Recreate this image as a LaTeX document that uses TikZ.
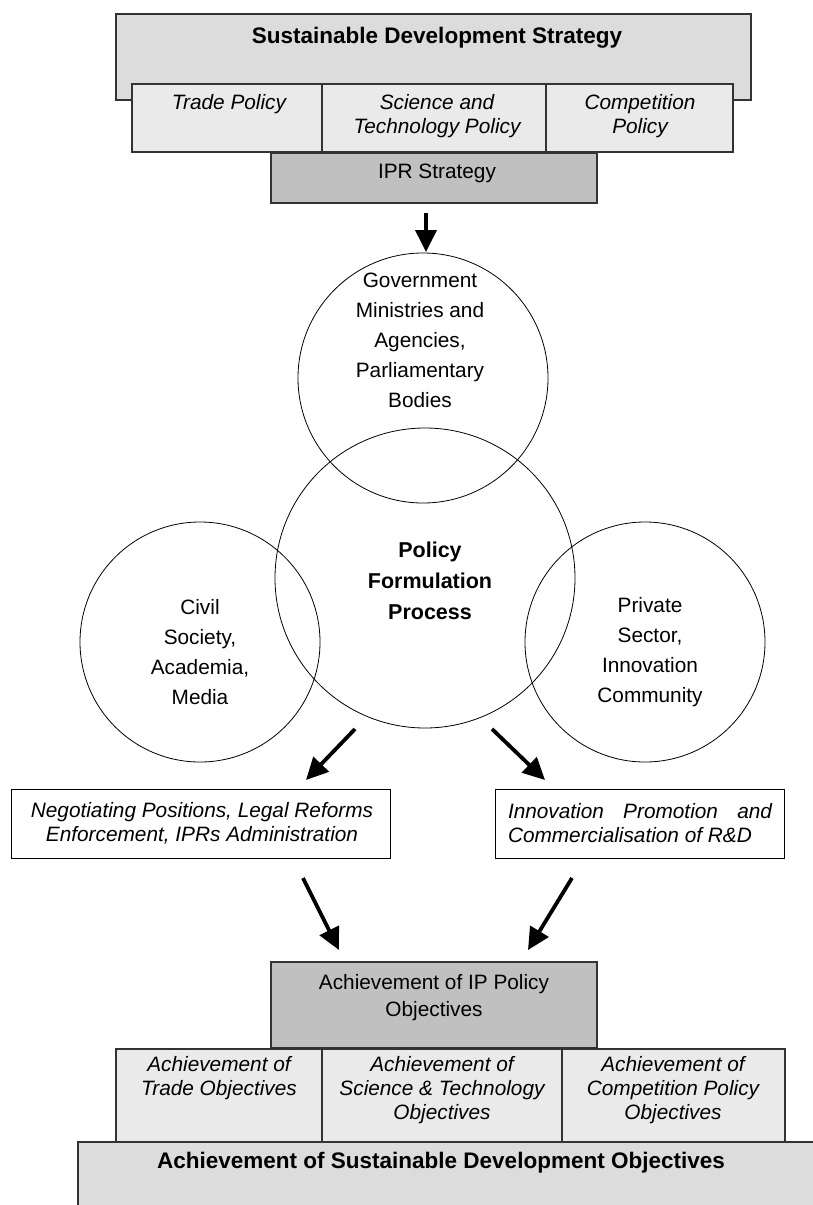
\documentclass[tikz,border=0pt]{standalone}
\usepackage{fontspec}
\setmainfont{Liberation Sans}
\usepackage{calc}
\usetikzlibrary{arrows.meta}
\definecolor{gA}{HTML}{DCDCDC}
\definecolor{gB}{HTML}{EAEAEA}
\definecolor{gC}{HTML}{C0C0C0}
\definecolor{edge}{HTML}{333333}
\begin{document}
\begin{tikzpicture}[x=1pt,y=-1pt,
  panel/.style={draw=edge, line width=1.6pt, inner sep=0pt, outer sep=0pt},
  panelA/.style={panel, fill=gA},
  panelB/.style={panel, fill=gB},
  panelC/.style={panel, fill=gC},
  plainbox/.style={draw=black, line width=0.8pt, fill=white, inner sep=0pt},
  ring/.style={draw=black, line width=0.8pt, circle, inner sep=0pt},
  txt/.style={inner sep=0pt, align=center, font=\fontsize{20.8}{24}\selectfont},
  itxt/.style={txt, font=\fontsize{20.8}{24}\selectfont\itshape},
  ctxt/.style={txt, font=\fontsize{20.8}{30}\selectfont},
  btxt/.style={txt, font=\fontsize{22.5}{27}\selectfont\bfseries},
  bigarrow/.style={line width=3.8pt, -{Triangle[length=22pt,width=21pt]}}
]
\useasboundingbox (0,0) rectangle (813,1205);

% ---------- top stack ----------
\node[panelA, minimum width=635pt, minimum height=86pt] (sds) at (433.5,57) {};
\node[btxt] (sdsT) at (437,38) {Sustainable Development Strategy};
\node[panelB, minimum width=190pt, minimum height=68pt] (trade) at (227,118) {};
\node[panelB, minimum width=224pt, minimum height=68pt] (sci) at (434,118) {};
\node[panelB, minimum width=187pt, minimum height=68pt] (comp) at (639.5,118) {};
\node[itxt, anchor=north] (tradeT) at (229,94) {Trade Policy};
\node[itxt, anchor=north] (sciT) at (437,94) {Science and\\Technology Policy};
\node[itxt, anchor=north] (compT) at (640,94) {Competition\\Policy};
\node[panelC, minimum width=326pt, minimum height=50pt] (ipr) at (434,178) {};
\node[txt] (iprT) at (437,173) {IPR Strategy};

% ---------- circles ----------
\node[ring, minimum size=300pt] (pfp) at (425,578) {};
\node[ring, minimum size=250pt] (gov) at (423,378) {};
\node[ring, minimum size=240pt] (civ) at (200,642) {};
\node[ring, minimum size=240pt] (priv) at (645,642) {};
\node[ctxt] (govT) at (420,340) {Government\\Ministries and\\Agencies,\\Parliamentary\\Bodies};
\node[ctxt] (civT) at (200,652) {Civil\\Society,\\Academia,\\Media};
\node[ctxt] (privT) at (650,652) {Private\\Sector,\\Innovation\\Community};
\node[txt, font=\fontsize{21.5}{31}\selectfont\bfseries] (pfpT) at (430,581) {Policy\\Formulation\\Process};

% ---------- middle boxes ----------
\node[plainbox, minimum width=379pt, minimum height=69pt] (neg) at (200.5,823.5) {};
\node[plainbox, minimum width=289pt, minimum height=69pt] (inn) at (639.5,823.5) {};
\node[itxt] (negT) at (202,823) {Negotiating Positions, Legal Reforms\\Enforcement, IPRs Administration};
\node[itxt, align=left] (innT) at (640,823)
  {\makebox[264pt][s]{Innovation Promotion and}\\Commercialisation of R\&D};

% ---------- bottom stack ----------
\node[panelA, minimum width=740pt, minimum height=80pt] (sdo) at (448,1182) {};
\node[btxt] (sdoT) at (441,1163) {Achievement of Sustainable Development Objectives};
\node[panelB, minimum width=206pt, minimum height=93pt] (tro) at (219,1095.5) {};
\node[panelB, minimum width=240pt, minimum height=93pt] (sto) at (442,1095.5) {};
\node[panelB, minimum width=223pt, minimum height=93pt] (cpo) at (673.5,1095.5) {};
\node[itxt, anchor=north] (troT) at (219,1056) {Achievement of\\Trade Objectives};
\node[itxt, anchor=north] (stoT) at (442,1056) {Achievement of\\Science \& Technology\\Objectives};
\node[itxt, anchor=north] (cpoT) at (673,1056) {Achievement of\\Competition Policy\\Objectives};
\node[panelC, minimum width=326pt, minimum height=86pt] (ipo) at (434,1005) {};
\node[txt, font=\fontsize{20.8}{27}\selectfont] (ipoT) at (434,998) {Achievement of IP Policy\\Objectives};

% ---------- arrows ----------
\coordinate (a1s) at (426,213); \coordinate (a1e) at (426,252);
\coordinate (a2s) at (355,729); \coordinate (a2e) at (306,780);
\coordinate (a3s) at (492,729); \coordinate (a3e) at (545,780);
\coordinate (a4s) at (303,878); \coordinate (a4e) at (339,950);
\coordinate (a5s) at (572,878); \coordinate (a5e) at (528,950);
\draw[bigarrow] (a1s) -- (a1e);
\draw[bigarrow] (a2s) -- (a2e);
\draw[bigarrow] (a3s) -- (a3e);
\draw[bigarrow] (a4s) -- (a4e);
\draw[bigarrow] (a5s) -- (a5e);
\end{tikzpicture}
\end{document}
